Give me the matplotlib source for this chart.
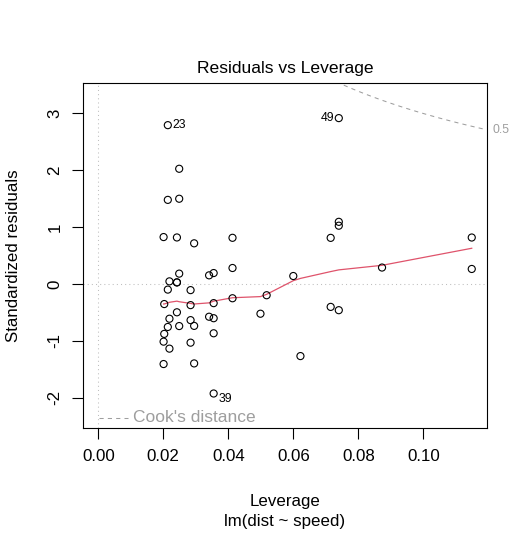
import matplotlib
matplotlib.use("Agg")
import matplotlib.pyplot as plt
import matplotlib.transforms as mtransforms
import numpy as np

plt.rcParams['font.family'] = ['Liberation Sans', 'DejaVu Sans']

# ---- data ----
leverage = [0.1149, 0.1149, 0.0715, 0.0715, 0.0600, 0.0499, 0.0413, 0.0413, 0.0413, 0.0341,
            0.0341, 0.0284, 0.0284, 0.0284, 0.0284, 0.0242, 0.0242, 0.0242, 0.0242, 0.0214,
            0.0214, 0.0214, 0.0214, 0.0201, 0.0201, 0.0201, 0.0203, 0.0203, 0.0219, 0.0219,
            0.0219, 0.0249, 0.0249, 0.0249, 0.0249, 0.0295, 0.0295, 0.0295, 0.0355, 0.0355,
            0.0355, 0.0355, 0.0355, 0.0518, 0.0622, 0.0740, 0.0740, 0.0740, 0.0740, 0.0873]
std_resid = [0.266, 0.819, -0.401, 0.813, 0.142, -0.521, -0.249, 0.283, 0.814, -0.574,
             0.154, -1.030, -0.634, -0.370, -0.106, -0.496, 0.030, 0.030, 0.820, -0.754,
             -0.097, 1.481, 2.795, -1.406, -1.012, 0.827, -0.876, -0.351, -1.135, -0.609,
             0.048, -0.738, 0.184, 1.501, 2.028, -1.395, -0.735, 0.717, -1.924, -0.865,
             -0.600, -0.335, 0.194, -0.196, -1.266, -0.459, 1.027, 1.095, 2.919, 0.291]
labelled_ids = [23, 49, 39]

smooth_x = [0.0201, 0.0203, 0.0214, 0.0219, 0.0242, 0.0249, 0.0284, 0.0295, 0.0341, 0.0355,
            0.0413, 0.0499, 0.0518, 0.0600, 0.0622, 0.0715, 0.0740, 0.0873, 0.1149]
smooth_y = [-0.35, -0.35, -0.33, -0.32, -0.30, -0.31, -0.34, -0.35, -0.33, -0.30,
            -0.24, -0.22, -0.18, 0.06, 0.10, 0.22, 0.25, 0.33, 0.63]

cook_level = 0.5
n_params = 2

# ---- figure ----
W, H = 529, 533
fig = plt.figure(figsize=(W / 100, H / 100), dpi=100)
ax = fig.add_axes([83.3 / W, 1 - 428.3 / H, (486.7 - 83.3) / W, (428.3 - 83.3) / H])

xlim = (-0.0046, 0.1195)
ylim = (-2.536, 3.531)
ax.set_xlim(*xlim)
ax.set_ylim(*ylim)

grey_lines = '#BEBEBE'
grey62 = '#9E9E9E'

ax.axhline(0, color=grey_lines, lw=0.75, linestyle=(0, (1, 3)), zorder=1)
ax.axvline(0, color=grey_lines, lw=0.75, linestyle=(0, (1, 3)), zorder=1)

ax.scatter(leverage, std_resid, s=26, facecolors='none', edgecolors='black',
           linewidths=0.8, zorder=3)

ax.plot(smooth_x, smooth_y, color='#DF536B', lw=0.9, zorder=2)

# Cook's distance contour
hh = np.linspace(0.0201, xlim[1], 101)
cl = np.sqrt(cook_level * n_params * (1 - hh) / hh)
ax.plot(hh, cl, color=grey62, lw=0.75, linestyle=(0, (4, 4)), zorder=1)
ax.plot(hh, -cl, color=grey62, lw=0.75, linestyle=(0, (4, 4)), zorder=1)
ax.annotate('0.5', xy=(xlim[1], cl[-1]), xytext=(4, 0), textcoords='offset points',
            ha='left', va='center', color=grey62, fontsize=8.8, annotation_clip=False)

# legend
ax.plot([0.038, 0.111], [0.031, 0.031], transform=ax.transAxes, color=grey62,
        lw=0.75, linestyle=(0, (4, 4)))
ax.text(0.123, 0.031, "Cook's distance", transform=ax.transAxes, color=grey62,
        fontsize=12.5, ha='left', va='center')

# point labels
for i in labelled_ids:
    x, y = leverage[i - 1], std_resid[i - 1]
    if x > (min(leverage) + max(leverage)) / 2:
        ax.annotate(str(i), xy=(x, y), xytext=(-3.5, 0), textcoords='offset points',
                    ha='right', va='center', fontsize=8.8)
    else:
        dy = -4 if y < 0 else 0
        ax.annotate(str(i), xy=(x, y), xytext=(3.5, dy), textcoords='offset points',
                    ha='left', va='center', fontsize=8.8)

# ticks
ax.set_xticks([0.00, 0.02, 0.04, 0.06, 0.08, 0.10])
ax.set_xticklabels(['0.00', '0.02', '0.04', '0.06', '0.08', '0.10'])
ax.set_yticks([-2, -1, 0, 1, 2, 3])
ax.set_yticklabels(['-2', '-1', '0', '1', '2', '3'], rotation=90, va='center')
ax.tick_params(axis='both', direction='out', length=8, width=0.8, labelsize=12.2,
               pad=7, colors='black')
for sp in ax.spines.values():
    sp.set_linewidth(0.8)

# titles / labels
fig.text(285 / W, 1 - 68 / H, 'Residuals vs Leverage', ha='center', va='center', fontsize=12.6)
fig.text(285 / W, 1 - 501.7 / H, 'Leverage', ha='center', va='center', fontsize=12.2)
fig.text(285 / W, 1 - 521.7 / H, 'lm(dist ~ speed)', ha='center', va='center', fontsize=12.2)
fig.text(13.5 / W, 1 - 255.8 / H, 'Standardized residuals', ha='center', va='center',
         rotation=90, fontsize=12.2)

fig.savefig('out.png', dpi=100)
